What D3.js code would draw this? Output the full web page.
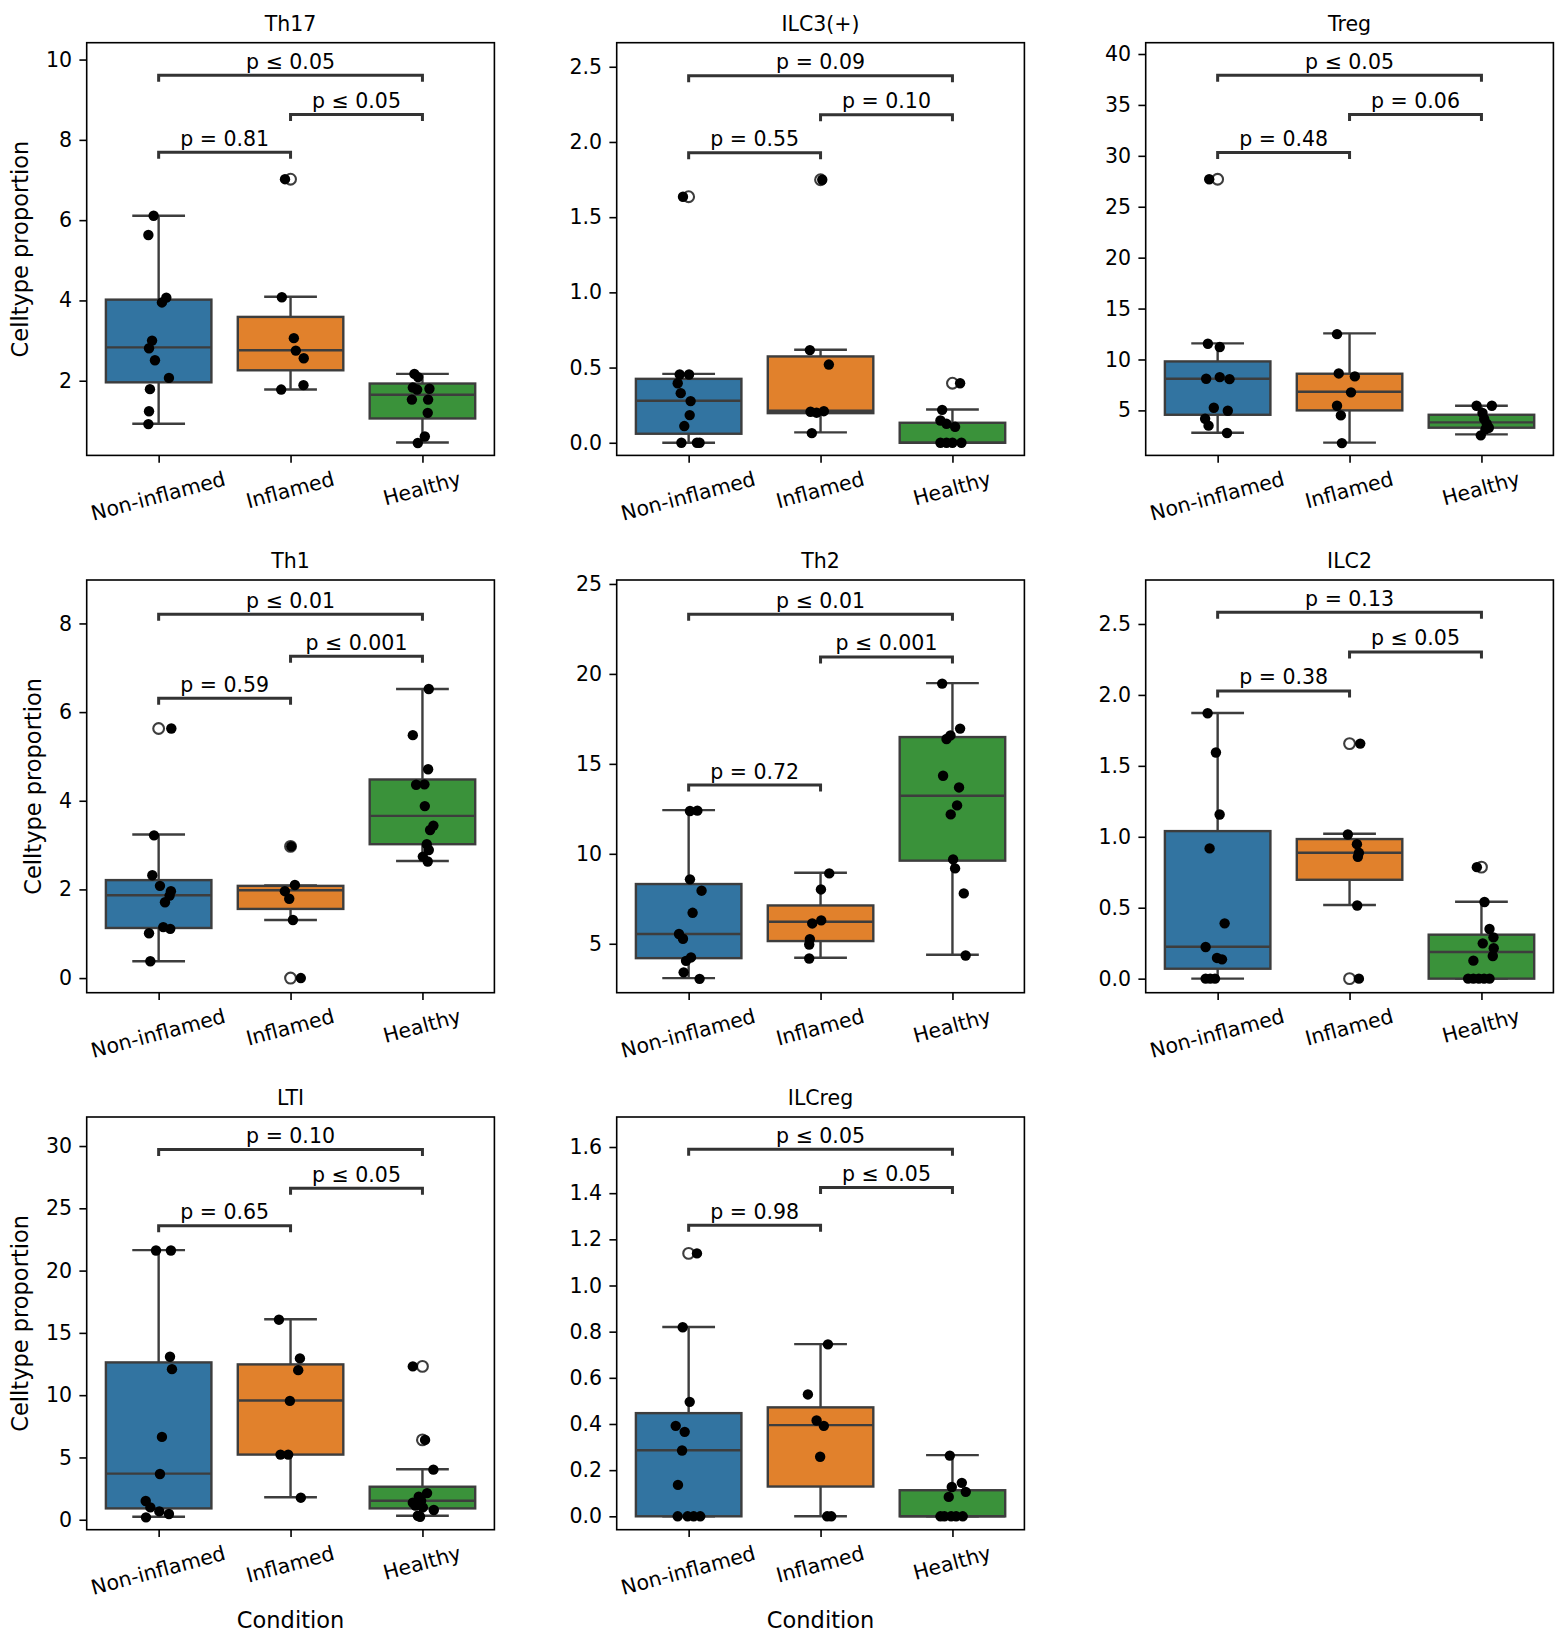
<!DOCTYPE html>
<html>
<head>
<meta charset="utf-8">
<script src="https://cdn.jsdelivr.net/npm/d3@7"></script>
<style>
  body { margin: 0; background: #fff; }
  svg text { font-family: "DejaVu Sans", sans-serif; }
</style>
</head>
<body>
<svg id="chart" width="1568" height="1646"></svg>
<script>
// ---------------- DATA ----------------
const categories = ["Non-inflamed", "Inflamed", "Healthy"];
const panelTitles = ["Th17", "ILC3(+)", "Treg", "Th1", "Th2", "ILC2", "LTI", "ILCreg"];
const boxColors = ["#3274a1", "#e1812c", "#3a923a"];

const yTicks = [
  [2, 4, 6, 8, 10],
  [0, 0.5, 1.0, 1.5, 2.0, 2.5],
  [5, 10, 15, 20, 25, 30, 35, 40],
  [0, 2, 4, 6, 8],
  [5, 10, 15, 20, 25],
  [0, 0.5, 1.0, 1.5, 2.0, 2.5],
  [0, 5, 10, 15, 20, 25, 30],
  [0, 0.2, 0.4, 0.6, 0.8, 1.0, 1.2, 1.4, 1.6]
];
const yLimits = [
  [0.14, 10.42], [-0.084, 2.66], [0.58, 41.11], [-0.33, 8.98],
  [2.28, 25.22], [-0.099, 2.81], [-0.80, 32.33], [-0.058, 1.730]
];

// points: [value, jitter (in category units)], one array per condition
const pointsTh17 = [
  [[6.11,-0.038],[5.63,-0.078],[4.07,0.058],[3.95,0.025],[3.00,-0.05],[2.81,-0.073],[2.51,-0.028],[2.07,0.078],[1.79,-0.066],[1.24,-0.073],[0.92,-0.078]],
  [[7.02,-0.042],[4.08,-0.066],[3.06,0.025],[2.75,0.04],[2.56,0.10],[1.89,0.098],[1.78,-0.071]],
  [[2.17,-0.061],[2.09,-0.033],[1.83,-0.073],[1.78,-0.04],[1.80,0.053],[1.53,-0.08],[1.53,0.043],[1.20,0.04],[0.61,0.018],[0.45,-0.035]]
];
const pointsILC3 = [
  [[1.636,-0.043],[0.454,-0.068],[0.454,0.003],[0.396,-0.083],[0.33,-0.06],[0.277,0.015],[0.184,0.008],[0.111,-0.033],[0,-0.055],[0,0.063],[0,0.083]],
  [[1.749,0.013],[0.616,-0.081],[0.52,0.063],[0.206,-0.076],[0.2,-0.03],[0.21,0.025],[0.064,-0.066]],
  [[0.396,0.058],[0.219,-0.078],[0.148,-0.091],[0.126,-0.045],[0.106,0.02],[0,-0.091],[0,-0.045],[0,0],[0,0.068]]
];
const pointsTreg = [
  [[27.70,-0.064],[11.54,-0.074],[11.22,0.016],[8.11,-0.087],[8.27,0.016],[8.07,0.09],[5.26,-0.029],[4.97,0.077],[4.18,-0.095],[3.50,-0.069],[2.78,0.071]],
  [[12.49,-0.095],[8.63,-0.082],[8.34,0.04],[6.77,0.011],[5.46,-0.095],[4.51,-0.066],[1.79,-0.058]],
  [[5.46,-0.037],[5.46,0.079],[4.74,0.008],[4.15,0.021],[3.69,0.04],[3.30,0.056],[3.17,0.032],[2.55,-0.005]]
];
const pointsTh1 = [
  [[5.63,0.096],[3.22,-0.035],[2.32,-0.048],[2.08,0.01],[1.96,0.093],[1.86,0.083],[1.71,0.048],[1.15,0.035],[1.11,0.088],[1.01,-0.073],[0.38,-0.063]],
  [[2.97,0.005],[2.10,0.033],[1.96,-0.043],[1.79,-0.01],[1.31,0.018],[0,0.078]],
  [[6.52,0.048],[5.48,-0.073],[4.71,0.043],[4.36,-0.048],[4.37,0.015],[3.88,0.018],[3.44,0.083],[3.34,0.058],[3.02,0.033],[2.89,0.048],[2.74,0.003],[2.63,0.04]]
];
const pointsTh2 = [
  [[12.38,0.01],[12.40,0.066],[8.58,0.01],[7.95,0.098],[6.72,0.03],[5.54,-0.073],[5.28,-0.043],[4.24,0.018],[4.05,-0.02],[3.41,-0.038],[3.05,0.083]],
  [[8.91,0.066],[8.02,0.003],[6.13,-0.063],[6.30,0.005],[5.26,-0.081],[4.96,-0.086],[4.18,-0.086]],
  [[19.46,-0.078],[16.96,0.058],[16.58,-0.015],[16.38,-0.045],[14.34,-0.071],[13.69,0.05],[12.69,0.035],[12.19,-0.013],[9.69,0.005],[9.19,0.02],[7.80,0.086],[4.35,0.10]]
];
const pointsILC2 = [
  [[1.871,-0.076],[1.594,-0.013],[1.157,0.015],[0.918,-0.061],[0.39,0.053],[0.223,-0.091],[0.146,-0.005],[0.136,0.033],[0,-0.091],[0,-0.056],[0,-0.02]],
  [[1.657,0.081],[1.016,-0.013],[0.948,0.056],[0.887,0.071],[0.859,0.063],[0.516,0.058],[0,0.071]],
  [[0.786,-0.035],[0.54,0.023],[0.35,0.061],[0.291,0.091],[0.249,0.01],[0.214,0.093],[0.16,0.086],[0.127,-0.061],[0,-0.101],[0,-0.061],[0,-0.02],[0,0.02],[0,0.061]]
];
const pointsLTI = [
  [[21.61,-0.02],[21.61,0.093],[13.08,0.086],[12.09,0.101],[6.65,0.025],[3.67,0.01],[1.50,-0.098],[0.99,-0.063],[0.67,0.005],[0.46,0.078],[0.19,-0.096]],
  [[16.06,-0.088],[12.95,0.071],[12.01,0.058],[9.54,-0.005],[5.23,-0.076],[5.23,-0.018],[1.77,0.078]],
  [[12.31,-0.073],[6.41,0.02],[4.02,0.083],[2.14,0.035],[1.85,-0.028],[1.37,-0.073],[1.53,-0.01],[1.13,-0.053],[0.99,0.003],[0.78,0.086],[0.32,-0.035],[0.24,-0.018]]
];
const pointsILCreg = [
  [[1.139,0.063],[0.819,-0.045],[0.496,0.008],[0.392,-0.098],[0.366,-0.03],[0.285,-0.05],[0.136,-0.081],[0,-0.083],[0,-0.008],[0,0.038],[0,0.088]],
  [[0.745,0.056],[0.528,-0.096],[0.415,-0.03],[0.392,0.025],[0.258,-0.003],[0,0.05],[0,0.081]],
  [[0.263,-0.02],[0.145,0.071],[0.127,-0.005],[0.106,0.101],[0.084,-0.028],[0,-0.091],[0,-0.061],[0,-0.01],[0,0.028],[0,0.078]]
];
const panelPoints = [pointsTh17, pointsILC3, pointsTreg, pointsTh1, pointsTh2, pointsILC2, pointsLTI, pointsILCreg];

// box statistics: [whisker low, Q1, median, Q3, whisker high] per condition
const boxStats = [
  [[0.93,1.96,2.83,4.02,6.11],[1.78,2.26,2.76,3.59,4.09],[0.46,1.06,1.65,1.93,2.17]],
  [[0,0.06,0.279,0.425,0.458],[0.069,0.197,0.213,0.574,0.618],[0,0,0,0.133,0.221]],
  [[2.81,4.57,8.11,9.81,11.58],[1.83,5.0,6.83,8.6,12.56],[2.64,3.30,3.82,4.57,5.46]],
  [[0.38,1.13,1.87,2.21,3.24],[1.31,1.56,1.98,2.08,2.09],[2.64,3.02,3.66,4.48,6.52]],
  [[3.09,4.20,5.54,8.32,12.43],[4.22,5.15,6.22,7.13,8.95],[4.39,9.62,13.23,16.49,19.49]],
  [[0,0.07,0.225,1.04,1.873],[0.519,0.697,0.887,0.984,1.021],[0,0,0.188,0.31,0.542]],
  [[0.24,0.91,3.70,12.63,21.64],[1.80,5.23,9.57,12.47,16.09],[0.32,0.91,1.53,2.65,4.05]],
  [[0,0,0.286,0.447,0.820],[0,0.129,0.395,0.472,0.746],[0,0,0,0.113,0.265]]
];
const fliers = [
  [[],[7.02],[]],
  [[1.636],[1.749],[0.396]],
  [[27.70],[],[]],
  [[5.63],[2.97,0],[]],
  [[],[],[]],
  [[],[1.657,0],[0.786]],
  [[],[],[12.31,6.41]],
  [[1.139],[],[]]
];

// significance brackets: pairs and heights (data units) + labels
const bracketPairs = [[0,1],[1,2],[0,2]];
const bracketLevels = [
  [7.69, 8.63, 9.61],
  [1.929, 2.181, 2.440],
  [30.32, 34.05, 37.91],
  [6.31, 7.26, 8.21],
  [13.82, 20.94, 23.31],
  [2.028, 2.303, 2.582],
  [23.59, 26.62, 29.73],
  [1.2615, 1.425, 1.590]
];
const bracketLabels = [
  ["p = 0.81", "p \u2264 0.05", "p \u2264 0.05"],
  ["p = 0.55", "p = 0.10", "p = 0.09"],
  ["p = 0.48", "p = 0.06", "p \u2264 0.05"],
  ["p = 0.59", "p \u2264 0.001", "p \u2264 0.01"],
  ["p = 0.72", "p \u2264 0.001", "p \u2264 0.01"],
  ["p = 0.38", "p \u2264 0.05", "p = 0.13"],
  ["p = 0.65", "p \u2264 0.05", "p = 0.10"],
  ["p = 0.98", "p \u2264 0.05", "p \u2264 0.05"]
];
const yLabelText = "Celltype proportion";
const xLabelText = "Condition";

// ---------------- LAYOUT ----------------
const colLeft = [86.7, 616.7, 1145.7];
const rowTop = [42.7, 580, 1117];
const W = 407.7, H = 412.7;
const tickLen = 7.3, tickPad = 7.3;
const fs = 20.5, labelFs = 22.5;
const edge = "#3d3d3d";

const svg = d3.select("#chart");
svg.append("rect").attr("width", 1568).attr("height", 1646).attr("fill", "#fff");

panelTitles.forEach((title, i) => {
  const col = i % 3, row = Math.floor(i / 3);
  const g = svg.append("g").attr("transform", `translate(${colLeft[col]},${rowTop[row]})`);
  const x = d3.scaleLinear().domain([-0.5455, 2.5455]).range([0, W]);
  const y = d3.scaleLinear().domain(yLimits[i]).range([H, 0]);
  const step = x(1) - x(0);
  const bw = step * 0.8, cw = step * 0.4;

  // boxes
  boxStats[i].forEach((b, c) => {
    const [lo, q1, med, q3, hi] = b;
    const cx = x(c);
    const bg = g.append("g");
    bg.append("line").attr("x1", cx).attr("x2", cx).attr("y1", y(q1)).attr("y2", y(lo))
      .attr("stroke", edge).attr("stroke-width", 2.4);
    bg.append("line").attr("x1", cx).attr("x2", cx).attr("y1", y(q3)).attr("y2", y(hi))
      .attr("stroke", edge).attr("stroke-width", 2.4);
    [lo, hi].forEach(v => bg.append("line").attr("x1", cx - cw / 2).attr("x2", cx + cw / 2)
      .attr("y1", y(v)).attr("y2", y(v)).attr("stroke", edge).attr("stroke-width", 2.4));
    bg.append("rect").attr("x", cx - bw / 2).attr("y", y(q3)).attr("width", bw)
      .attr("height", Math.max(0, y(q1) - y(q3))).attr("fill", boxColors[c])
      .attr("stroke", edge).attr("stroke-width", 2.4);
    bg.append("line").attr("x1", cx - bw / 2).attr("x2", cx + bw / 2).attr("y1", y(med)).attr("y2", y(med))
      .attr("stroke", edge).attr("stroke-width", 2.4);
    fliers[i][c].forEach(v => bg.append("circle").attr("cx", cx).attr("cy", y(v)).attr("r", 5.4)
      .attr("fill", "none").attr("stroke", edge).attr("stroke-width", 2.1));
  });

  // strip points
  panelPoints[i].forEach((arr, c) => {
    g.append("g").selectAll("circle").data(arr).join("circle")
      .attr("cx", d => x(c + d[1])).attr("cy", d => y(d[0])).attr("r", 5.2).attr("fill", "#000");
  });

  // brackets
  bracketPairs.forEach((pr, k) => {
    const ly = y(bracketLevels[i][k]);
    const xa = x(pr[0]), xb = x(pr[1]);
    g.append("path").attr("d", `M${xa},${ly + 6.5}L${xa},${ly}L${xb},${ly}L${xb},${ly + 6.5}`)
      .attr("fill", "none").attr("stroke", "#333").attr("stroke-width", 3);
    g.append("text").attr("x", (xa + xb) / 2).attr("y", ly - 6.5).attr("text-anchor", "middle")
      .attr("font-size", fs).attr("fill", "#000").text(bracketLabels[i][k]);
  });

  // spines
  g.append("rect").attr("width", W).attr("height", H).attr("fill", "none")
    .attr("stroke", "#000").attr("stroke-width", 1.6);

  // y axis
  const hasDec = yTicks[i].some(t => !Number.isInteger(t));
  const yAxis = d3.axisLeft(y).tickValues(yTicks[i]).tickSize(tickLen).tickPadding(tickPad)
    .tickFormat(hasDec ? d3.format(".1f") : d3.format("d"));
  const ya = g.append("g").call(yAxis);
  ya.select(".domain").remove();
  ya.attr("font-size", fs).attr("font-family", "DejaVu Sans");
  ya.selectAll(".tick line").attr("stroke-width", 1.6);
  ya.selectAll(".tick text").attr("fill", "#000");

  // x axis
  const xAxis = d3.axisBottom(x).tickValues([0, 1, 2]).tickSize(tickLen).tickFormat("");
  const xa = g.append("g").attr("transform", `translate(0,${H})`).call(xAxis);
  xa.select(".domain").remove();
  xa.selectAll(".tick line").attr("stroke-width", 1.6);

  // rotated category labels
  const rad = 15 * Math.PI / 180;
  categories.forEach((cat, c) => {
    const t = g.append("text").attr("font-size", fs).attr("text-anchor", "middle")
      .attr("dy", "0.26em").attr("fill", "#000").text(cat);
    const w = t.node().getComputedTextLength();
    const hr = w * Math.sin(rad) + fs * Math.cos(rad);
    t.attr("transform", `translate(${x(c)},${H + tickLen + tickPad + hr / 2}) rotate(-15)`);
  });

  // title
  g.append("text").attr("x", W / 2).attr("y", -12).attr("text-anchor", "middle")
    .attr("font-size", fs).attr("fill", "#000").text(title);

  // y label (first column)
  if (col === 0) {
    let maxW = 0;
    ya.selectAll(".tick text").each(function () { maxW = Math.max(maxW, this.getComputedTextLength()); });
    const bx = -(tickLen + tickPad) - maxW - 17.6;
    g.append("text").attr("transform", `translate(${bx},${H / 2}) rotate(-90)`)
      .attr("text-anchor", "middle").attr("font-size", labelFs).attr("fill", "#000").text(yLabelText);
  }
  // x label (bottom row)
  if (row === 2) {
    g.append("text").attr("x", W / 2).attr("y", H + 98).attr("text-anchor", "middle")
      .attr("font-size", labelFs).attr("fill", "#000").text(xLabelText);
  }
});
</script>
</body>
</html>
